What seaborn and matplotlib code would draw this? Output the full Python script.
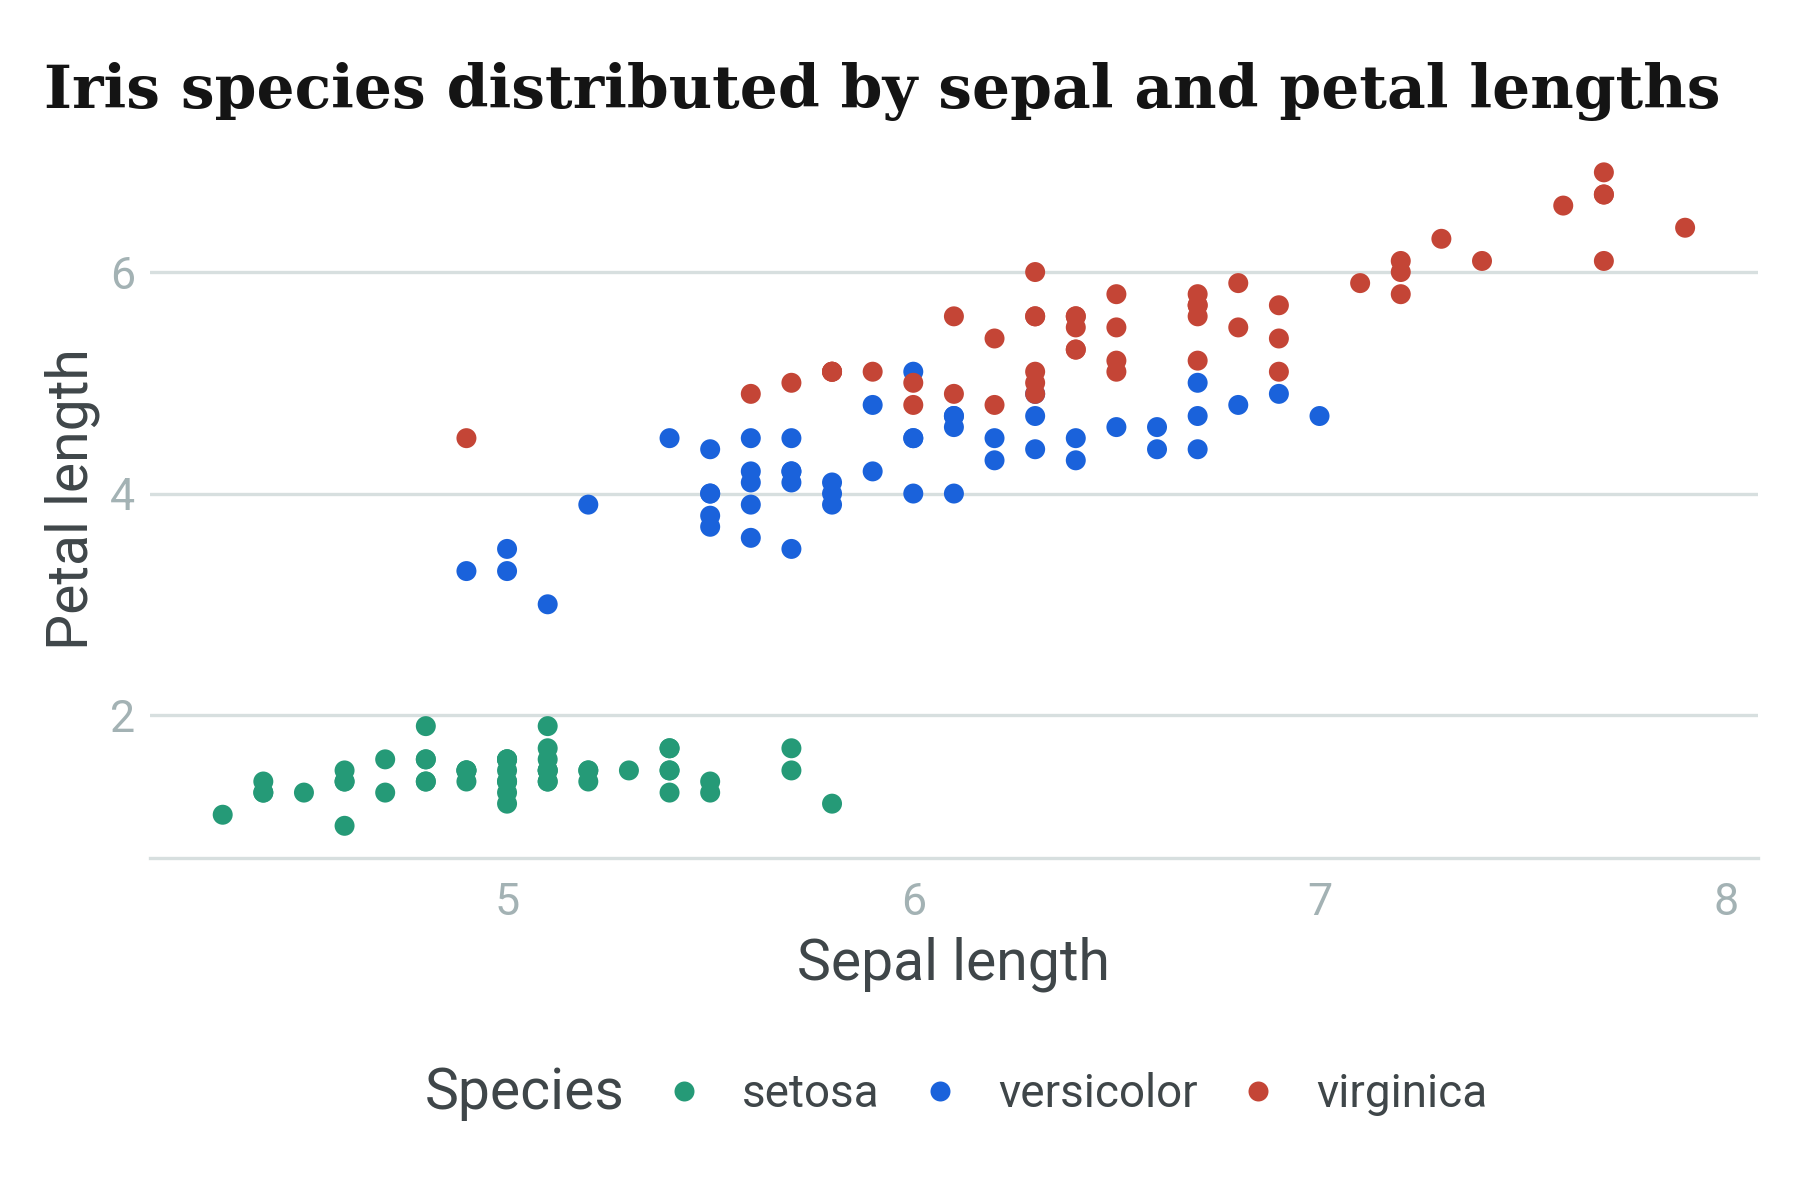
import matplotlib.pyplot as plt
import pandas as pd
import seaborn as sns

# iris measurements (sepal length, petal length) per species
setosa_sepal = [5.1, 4.9, 4.7, 4.6, 5.0, 5.4, 4.6, 5.0, 4.4, 4.9, 5.4, 4.8, 4.8, 4.3, 5.8, 5.7, 5.4,
                5.1, 5.7, 5.1, 5.4, 5.1, 4.6, 5.1, 4.8, 5.0, 5.0, 5.2, 5.2, 4.7, 4.8, 5.4, 5.2, 5.5,
                4.9, 5.0, 5.5, 4.9, 4.4, 5.1, 5.0, 4.5, 4.4, 5.0, 5.1, 4.8, 5.1, 4.6, 5.3, 5.0]
setosa_petal = [1.4, 1.4, 1.3, 1.5, 1.4, 1.7, 1.4, 1.5, 1.4, 1.5, 1.5, 1.6, 1.4, 1.1, 1.2, 1.5, 1.3,
                1.4, 1.7, 1.5, 1.7, 1.5, 1.0, 1.7, 1.9, 1.6, 1.6, 1.5, 1.4, 1.6, 1.6, 1.5, 1.5, 1.4,
                1.5, 1.2, 1.3, 1.5, 1.3, 1.5, 1.3, 1.3, 1.3, 1.6, 1.9, 1.4, 1.6, 1.4, 1.5, 1.4]
versicolor_sepal = [7.0, 6.4, 6.9, 5.5, 6.5, 5.7, 6.3, 4.9, 6.6, 5.2, 5.0, 5.9, 6.0, 6.1, 5.6, 6.7, 5.6,
                    5.8, 6.2, 5.6, 5.9, 6.1, 6.3, 6.1, 6.4, 6.6, 6.8, 6.7, 6.0, 5.7, 5.5, 5.5, 5.8, 6.0,
                    5.4, 6.0, 6.7, 6.3, 5.6, 5.5, 5.5, 6.1, 5.8, 5.0, 5.6, 5.7, 5.7, 6.2, 5.1, 5.7]
versicolor_petal = [4.7, 4.5, 4.9, 4.0, 4.6, 4.5, 4.7, 3.3, 4.6, 3.9, 3.5, 4.2, 4.0, 4.7, 3.6, 4.4, 4.5,
                    4.1, 4.5, 3.9, 4.8, 4.0, 4.9, 4.7, 4.3, 4.4, 4.8, 5.0, 4.5, 3.5, 3.8, 3.7, 3.9, 5.1,
                    4.5, 4.5, 4.7, 4.4, 4.1, 4.0, 4.4, 4.6, 4.0, 3.3, 4.2, 4.2, 4.2, 4.3, 3.0, 4.1]
virginica_sepal = [6.3, 5.8, 7.1, 6.3, 6.5, 7.6, 4.9, 7.3, 6.7, 7.2, 6.5, 6.4, 6.8, 5.7, 5.8, 6.4, 6.5,
                   7.7, 7.7, 6.0, 6.9, 5.6, 7.7, 6.3, 6.7, 7.2, 6.2, 6.1, 6.4, 7.2, 7.4, 7.9, 6.4, 6.3,
                   6.1, 7.7, 6.3, 6.4, 6.0, 6.9, 6.7, 6.9, 5.8, 6.8, 6.7, 6.7, 6.3, 6.5, 6.2, 5.9]
virginica_petal = [6.0, 5.1, 5.9, 5.6, 5.8, 6.6, 4.5, 6.3, 5.8, 6.1, 5.1, 5.3, 5.5, 5.0, 5.1, 5.3, 5.5,
                   6.7, 6.9, 5.0, 5.7, 4.9, 6.7, 4.9, 5.7, 6.0, 4.8, 4.9, 5.6, 5.8, 6.1, 6.4, 5.6, 5.1,
                   5.6, 6.1, 5.6, 5.5, 4.8, 5.4, 5.6, 5.1, 5.1, 5.9, 5.7, 5.2, 5.0, 5.2, 5.4, 5.1]

species = ["setosa", "versicolor", "virginica"]
colors = {"setosa": "#259a77", "versicolor": "#1a62db", "virginica": "#c44536"}

rows = []
for name, sx, px in [("setosa", setosa_sepal, setosa_petal),
                     ("versicolor", versicolor_sepal, versicolor_petal),
                     ("virginica", virginica_sepal, virginica_petal)]:
    for a, b in zip(sx, px):
        rows.append([a, b, name])
df = pd.DataFrame(rows, columns=["Sepal length", "Petal length", "Species"])

text_col = "#3f4649"
tick_col = "#a3b2b4"
grid_col = "#d7dfdf"

sns.set_style("white")
plt.rcParams["font.family"] = ["Roboto", "DejaVu Sans"]

fig = plt.figure(figsize=(12, 8), dpi=150)
ax = fig.add_axes([0.0831, 0.2846, 0.8937, 0.599])

sns.scatterplot(data=df, x="Sepal length", y="Petal length", hue="Species", hue_order=species,
                palette=colors, s=92, linewidth=0, ax=ax)

ax.set_xlim(4.12, 8.08)
ax.set_ylim(0.705, 7.195)
ax.set_xticks([5, 6, 7, 8])
ax.set_yticks([2, 4, 6])
ax.set_xticklabels(["5", "6", "7", "8"])
ax.set_yticklabels(["2", "4", "6"])

for side in ["top", "right", "left"]:
    ax.spines[side].set_visible(False)
ax.spines["bottom"].set_color(grid_col)
ax.spines["bottom"].set_linewidth(1.6)
ax.yaxis.grid(True, color=grid_col, linewidth=1.6)
ax.xaxis.grid(False)
ax.set_axisbelow(True)
ax.tick_params(axis="x", colors=grid_col, length=4.5, width=1.6, pad=7, labelsize=21.5,
               labelcolor=tick_col)
ax.tick_params(axis="y", colors=grid_col, length=5.5, width=1.6, pad=1.5, labelsize=21.5,
               labelcolor=tick_col)

ax.set_xlabel("Sepal length", fontsize=27.4, color=text_col, labelpad=6)
ax.set_ylabel("Petal length", fontsize=27.4, color=text_col, labelpad=4.5)

sns.move_legend(ax, "center left", bbox_to_anchor=(0.367, 0.0885), bbox_transform=fig.transFigure,
                ncol=3, title=None, frameon=False, fontsize=22, labelcolor=text_col,
                handlelength=1.0, handletextpad=0.77, columnspacing=0.82, borderpad=0,
                borderaxespad=0)
fig.text(0.236, 0.0885, "Species", fontsize=27.4, color=text_col, ha="left", va="center")

title = fig.text(0.0245, 0.910, "Iris species distributed by sepal and petal lengths",
                 fontsize=34, fontweight="bold", color="#141414", ha="left", va="baseline",
                 family=["DejaVu Serif"])
fig.canvas.draw()
w = title.get_window_extent().width
title.set_fontsize(34 * 1676 / w)

fig.savefig("out.png", dpi=150)
